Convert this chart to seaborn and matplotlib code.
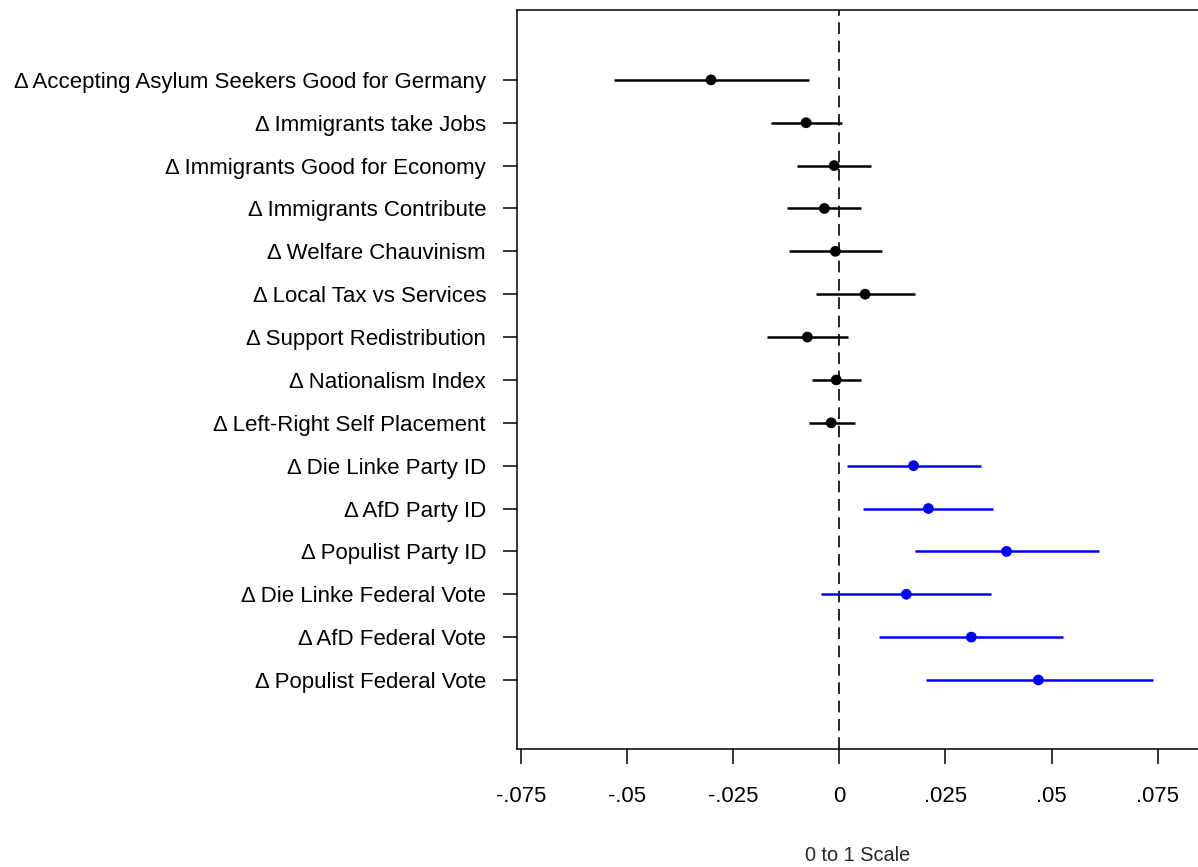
import numpy as np
import pandas as pd
import matplotlib
matplotlib.use("Agg")
import matplotlib.pyplot as plt
import seaborn as sns

# Outcome labels, top to bottom
outcomes = [
    "Δ Accepting Asylum Seekers Good for Germany",
    "Δ Immigrants take Jobs",
    "Δ Immigrants Good for Economy",
    "Δ Immigrants Contribute",
    "Δ Welfare Chauvinism",
    "Δ Local Tax vs Services",
    "Δ Support Redistribution",
    "Δ Nationalism Index",
    "Δ Left-Right Self Placement",
    "Δ Die Linke Party ID",
    "Δ AfD Party ID",
    "Δ Populist Party ID",
    "Δ Die Linke Federal Vote",
    "Δ AfD Federal Vote",
    "Δ Populist Federal Vote",
]

# Point estimates and 95% confidence bounds
estimate = [-0.0302, -0.0078, -0.0012, -0.0035, -0.0009, 0.0061, -0.0075, -0.0007,
            -0.0019, 0.0175, 0.0210, 0.0394, 0.0158, 0.0311, 0.0469]
ci_low = [-0.0531, -0.0160, -0.0099, -0.0123, -0.0118, -0.0054, -0.0170, -0.0064,
          -0.0071, 0.0019, 0.0057, 0.0179, -0.0042, 0.0094, 0.0205]
ci_high = [-0.0071, 0.0007, 0.0075, 0.0052, 0.0101, 0.0179, 0.0021, 0.0052,
           0.0038, 0.0333, 0.0361, 0.0611, 0.0358, 0.0528, 0.0738]
group = ["attitude"] * 9 + ["party"] * 6

x_ticks = [-0.075, -0.05, -0.025, 0, 0.025, 0.05, 0.075]
x_tick_labels = ["-.075", "-.05", "-.025", "0", ".025", ".05", ".075"]

df = pd.DataFrame({
    "outcome": outcomes,
    "estimate": estimate,
    "lo": ci_low,
    "hi": ci_high,
    "group": group,
})
df["pos"] = np.arange(len(df))

sns.set_theme(style="white")
plt.rcParams["font.family"] = ["Liberation Sans", "DejaVu Sans"]

palette = {"attitude": "#000000", "party": "#0000FF"}

fig = plt.figure(figsize=(11.98, 8.67), dpi=100)
ax = fig.add_axes([517 / 1198, 1 - 749 / 867, 1 - 517 / 1198, (749 - 10) / 867])

ax.axvline(0, color="black", lw=1.2, ls=(0, (7, 4)), zorder=1)

for _, r in df.iterrows():
    ax.hlines(r["pos"], r["lo"], r["hi"], color=palette[r["group"]], lw=1.8, zorder=2)

sns.scatterplot(data=df, x="estimate", y="pos", hue="group", palette=palette,
                s=60, edgecolor="none", legend=False, ax=ax, zorder=3)

ax.set_xlim(-0.0759, 0.0845)
ax.set_ylim(15.61, -1.63)

ax.set_yticks(df["pos"])
ax.set_yticklabels(df["outcome"], fontsize=16.0)
ax.set_xticks(x_ticks)
ax.set_xticklabels(x_tick_labels, fontsize=15.9)

ax.tick_params(axis="y", left=True, length=10.3, width=1.1, pad=12, colors="black")
ax.tick_params(axis="x", bottom=True, length=10.8, width=1.1, pad=16, colors="black")

for side in ["left", "top", "bottom"]:
    ax.spines[side].set_visible(True)
    ax.spines[side].set_color("black")
    ax.spines[side].set_linewidth(1.1)
ax.spines["right"].set_visible(False)

ax.set_xlabel("0 to 1 Scale", fontsize=14.3, labelpad=28)
ax.set_ylabel("")
ax.grid(False)

fig.savefig("out.png", dpi=100)
